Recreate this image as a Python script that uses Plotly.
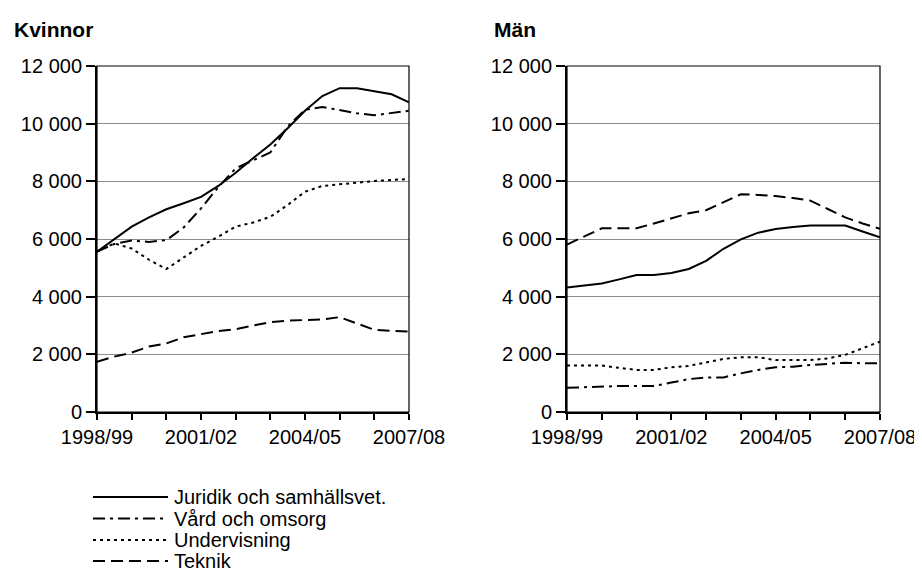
import plotly.graph_objects as go
from plotly.subplots import make_subplots

# Periods (semester-wise rolling academic years)
periods = ["1998/99", "1999", "1999/00", "2000", "2000/01", "2001", "2001/02", "2002",
           "2002/03", "2003", "2003/04", "2004", "2004/05", "2005", "2005/06", "2006",
           "2006/07", "2007", "2007/08"]
tick_labels = ["1998/99", "2001/02", "2004/05", "2007/08"]

series_names = ["Juridik och samhällsvet.", "Vård och omsorg", "Undervisning", "Teknik"]

# Kvinnor
jur_k = [5560, 6000, 6430, 6750, 7030, 7240, 7460, 7840, 8300, 8800, 9280, 9840, 10450, 10960, 11230, 11230, 11130, 11020, 10740]
vard_k = [5560, 5830, 5950, 5900, 5960, 6400, 7060, 7800, 8450, 8720, 9000, 9900, 10480, 10580, 10470, 10360, 10290, 10360, 10450]
undv_k = [5560, 5850, 5670, 5280, 4960, 5350, 5760, 6080, 6430, 6570, 6770, 7180, 7640, 7840, 7900, 7950, 8010, 8050, 8080]
tek_k = [1745, 1920, 2060, 2270, 2380, 2590, 2700, 2810, 2870, 2990, 3120, 3170, 3180, 3210, 3290, 3060, 2850, 2810, 2790]

# Män
jur_m = [4320, 4390, 4460, 4600, 4750, 4750, 4820, 4960, 5240, 5660, 5990, 6220, 6350, 6420, 6470, 6470, 6470, 6260, 6060]
vard_m = [840, 860, 890, 900, 900, 900, 1020, 1140, 1200, 1200, 1340, 1460, 1550, 1570, 1630, 1660, 1710, 1690, 1690]
undv_m = [1610, 1610, 1610, 1530, 1460, 1460, 1550, 1600, 1720, 1840, 1900, 1900, 1800, 1800, 1800, 1860, 1980, 2210, 2440]
tek_m = [5810, 6090, 6370, 6370, 6370, 6540, 6720, 6890, 7000, 7270, 7550, 7530, 7490, 7420, 7330, 7040, 6750, 6540, 6350]

y_ticks = [0, 2000, 4000, 6000, 8000, 10000, 12000]

dashes = ["solid", "12px,5px,3px,5px", "3px,4px", "12px,6px"]
FONT = "Liberation Sans, Arial, sans-serif"

# page body has an 8px margin: size the figure so it ends at the window edge
OFF = 8
W, H = 922 - OFF, 571 - OFF


def px_x(x):
    return (x - OFF) / W


def px_y(y):
    return 1 - (y - OFF) / H


fig = make_subplots(rows=1, cols=2)

x_idx = list(range(len(periods)))
for col, data in [(1, [jur_k, vard_k, undv_k, tek_k]), (2, [jur_m, vard_m, undv_m, tek_m])]:
    for name, vals, dash in zip(series_names, data, dashes):
        fig.add_trace(go.Scatter(
            x=x_idx, y=vals, mode="lines", name=name, showlegend=False,
            customdata=periods,
            line=dict(color="black", width=2, dash=dash),
        ), row=1, col=col)

tickvals = list(range(0, len(periods), 2))
ticktext = [p if p in tick_labels else "" for p in (periods[i] for i in tickvals)]

xdoms = [[px_x(97), px_x(409)], [px_x(567), px_x(880)]]
ydom = [px_y(412), px_y(66)]
for i, key in enumerate(["xaxis", "xaxis2"]):
    fig.layout[key].update(
        domain=xdoms[i], range=[0, len(periods) - 1], automargin=False,
        tickmode="array", tickvals=tickvals, ticktext=ticktext,
        ticks="outside", ticklen=6, tickwidth=2, tickcolor="black",
        showline=True, linecolor="black", linewidth=2,
        showgrid=False, zeroline=False,
        tickfont=dict(family=FONT, size=20, color="black"),
    )
for i, key in enumerate(["yaxis", "yaxis2"]):
    fig.layout[key].update(
        domain=ydom, range=[0, 12000], automargin=False,
        tickmode="array", tickvals=y_ticks, tickformat=",d",
        ticks="outside", ticklen=9, tickwidth=1.5, tickcolor="black",
        showline=True, linecolor="black", linewidth=2,
        showgrid=True, gridcolor="#8c8c8c", gridwidth=1,
        zeroline=False,
        tickfont=dict(family=FONT, size=20, color="black"),
    )

# plot-area border (top and right)
for xr, yr in [("x domain", "y domain"), ("x2 domain", "y2 domain")]:
    fig.add_shape(type="rect", xref=xr, yref=yr, x0=0, x1=1, y0=0, y1=1,
                  line=dict(color="black", width=1.2), layer="above")

# panel titles
for text, xpx in [("Kvinnor", 12), ("Män", 492)]:
    fig.add_annotation(text="<b>%s</b>" % text, x=px_x(xpx), y=px_y(30),
                       xref="paper", yref="paper", xanchor="left", yanchor="middle",
                       showarrow=False,
                       font=dict(family=FONT, size=21, color="black"))

# custom legend
leg_y = [497, 518.5, 540, 561]
for name, dash, ypx in zip(series_names, dashes, leg_y):
    fig.add_shape(type="line", xref="paper", yref="paper",
                  x0=px_x(93), x1=px_x(168), y0=px_y(ypx), y1=px_y(ypx),
                  line=dict(color="black", width=2, dash=dash))
    fig.add_annotation(text=name, x=px_x(172), y=px_y(ypx), xref="paper", yref="paper",
                       xanchor="left", yanchor="middle", showarrow=False,
                       font=dict(family=FONT, size=20, color="black"))

fig.update_layout(
    width=W, height=H, autosize=False,
    margin=dict(l=0, r=0, t=0, b=0, autoexpand=False),
    paper_bgcolor="white", plot_bgcolor="white",
    separators=", ",
    showlegend=False,
)

fig.write_html("out.html")
